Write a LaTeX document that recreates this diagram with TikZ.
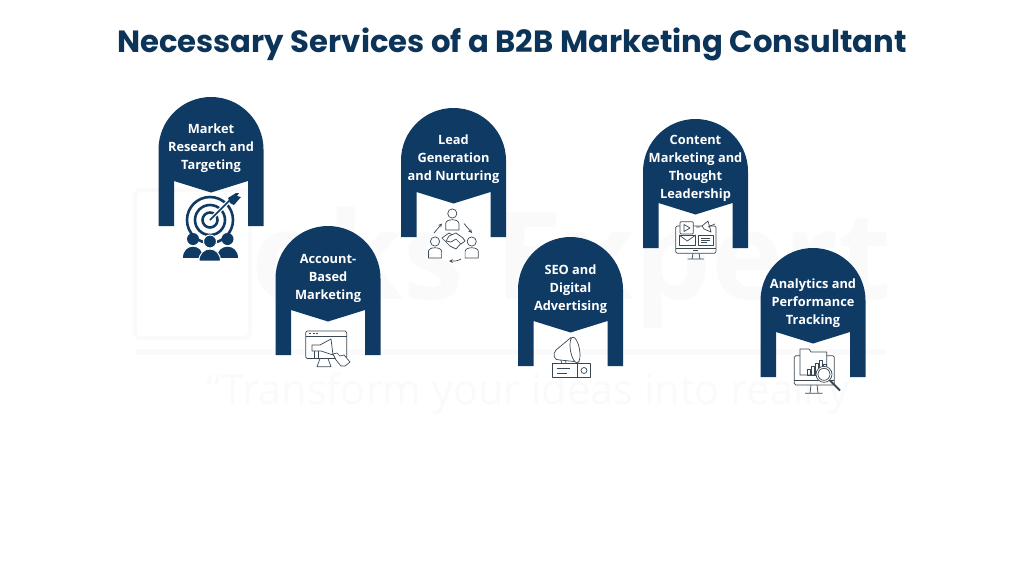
\documentclass[tikz,border=0pt]{standalone}
\usepackage{fontspec}
\setmainfont{Open Sans}
\newfontfamily\titlefont{Poppins}
\definecolor{archblue}{HTML}{0F3A63}
\definecolor{titleblue}{HTML}{0B3458}
\definecolor{iconline}{HTML}{3A4854}
\definecolor{wmgray}{HTML}{FAFAFA}
\tikzset{
    archtext/.style={text=white, align=center, font=\fontsize{12.8}{18}\selectfont\bfseries, inner sep=0pt},
    icon/.style={draw=iconline, line width=0.7pt, fill=white, line join=round},
    iconbare/.style={draw=iconline, line width=0.7pt, line join=round},
    arch/.pic={
        \fill[archblue] (-52.5,129) -- (-52.5,52.5) arc (180:360:52.5) -- (52.5,129)
            -- (37,129) -- (37,84) -- (0,95.5) -- (-37,84) -- (-37,129) -- cycle;
    }
}
\begin{document}
\begin{tikzpicture}[x=1pt, y=-1pt]
    \useasboundingbox (0,0) rectangle (1024,576);
    % watermark
    \node[text=wmgray, font=\fontsize{122}{122}\selectfont\bfseries, inner sep=0pt] (wmname) at (572,268) {oks Expert};
    \node[text=wmgray, font=\fontsize{41.5}{42}\selectfont, inner sep=0pt] (wmline) at (528,394) {``Transform your ideas into reality};
    \draw[wmgray, line width=6pt] (135,352) -- (885,352);
    \draw[wmgray, line width=4pt, rounded corners=6pt] (135,190) rectangle (250,338);

    \node[text=titleblue, font=\titlefont\fontsize{30.7}{34}\selectfont\bfseries, inner sep=0pt] (title) at (512,44) {Necessary Services of a B2B Marketing Consultant};

    \foreach \cx/\ty in {211/97, 328/226, 453.5/108, 570.5/237, 695.5/119, 813/248} {
        \pic at (\cx,\ty) {arch};
    }

    \node[archtext] (research) at (211,148) {Market\\Research and\\Targeting};
    \node[archtext] (account) at (328,278) {Account-\\Based\\Marketing};
    \node[archtext] (lead) at (453.5,159) {Lead\\Generation\\and Nurturing};
    \node[archtext] (seo) at (570.5,289) {SEO and\\Digital\\Advertising};
    \node[archtext] (content) at (695.5,168) {Content\\Marketing and\\Thought\\Leadership};
    \node[archtext] (analytics) at (813,303) {Analytics and\\Performance\\Tracking};

    % target icon
    \foreach \r/\w in {23/2.6, 15/2.6, 7.5/2.6} {
        \draw[archblue, line width=\w pt] (210,220) circle (\r);
    }
    \draw[white, line width=4pt] (210,220) -- (232,198);
    \draw[archblue, line width=1.6pt] (210,220) -- (232,198);
    \fill[archblue] (228,198) -- (236,193) -- (239,193) -- (237,196) -- (241,197) -- (234,205) -- (230,203) -- cycle;
    \foreach \x/\yy/\w in {193/239/10.3, 227.5/239/10.3} {
        \fill[archblue] (\x,\yy) circle (6);
        \fill[archblue] (\x-\w,258.3) .. controls (\x-\w,243) and (\x+\w,243) .. (\x+\w,258.3) -- cycle;
    }
    \fill[archblue, draw=white, line width=1pt] (199,261) .. controls (199,245) and (220.5,245) .. (220.5,261) -- cycle;
    \fill[archblue, draw=white, line width=1pt] (210,241.5) circle (6.5);

    % browser and megaphone icon
    \draw[icon, rounded corners=1.5pt] (305.7,331) rectangle (346.7,358.5);
    \draw[iconbare] (305.7,336) -- (346.7,336);
    \foreach \x in {309,312.5,316} {
        \draw[iconbare] (\x,333.5) -- +(2,0);
    }
    \draw[iconbare] (320,358.5) -- (317,366.7) -- (331,366.7) -- (328,358.5);
    \draw[icon] (312,345) -- (320,345) -- (331,339) -- (333,355) -- (321,351) -- (312,351) -- cycle;
    \draw[iconbare] (314,351) -- (314,358) -- (318,358) -- (318,351);
    \draw[icon] (333,354) -- (337,353) -- (340,356) -- (344,355) -- (350,362) -- (345,366) -- (341,366) -- (336,360) -- cycle;

    % handshake icon
    \foreach \x/\yy in {452.3/213.5, 435/241.5, 471.7/241.5} {
        \draw[iconbare] (\x,\yy) circle (4.6);
        \draw[iconbare] (\x-6.6,\yy+16.5) -- (\x-6.6,\yy+10) .. controls (\x-6.6,\yy+5) and (\x+6.6,\yy+5) .. (\x+6.6,\yy+10) -- (\x+6.6,\yy+16.5) -- cycle;
    }
    \draw[icon] (442,238) -- (449,233) -- (463,241) -- (456,249) -- (450,246) -- cycle;
    \draw[icon] (463,238) -- (456,233) -- (449,236) -- (446,241) -- (451,242) -- (456,239) -- (461,244) -- (465,241) -- cycle;
    \draw[iconbare, ->, >=stealth] (434,233) -- (442,223.5);
    \draw[iconbare, ->, >=stealth] (464,223.5) -- (472,233);
    \draw[iconbare, ->, >=stealth] (461,259) .. controls (457,261) .. (449,261);

    % megaphone and box icon
    \draw[icon] (552.3,363.5) rectangle (590,377.3);
    \draw[iconbare] (577.3,363.5) -- (577.3,377.3);
    \draw[iconbare] (584,370.5) circle (3);
    \draw[iconbare] (557,368.5) -- (570,368.5);
    \draw[iconbare] (557,373.5) -- (566.5,373.5);
    \draw[iconbare] (560,358) -- (562,363.5) -- (566,363.5) -- (565,356);
    \draw[icon] (571,337.5) -- (556,350) .. controls (552,354) and (554,361) .. (560,360) -- (579,362) -- cycle;
    \draw[icon, rotate around={10:(575,350)}] (575,350) ellipse (4.6 and 13);

    % content monitor icon
    \draw[icon, rounded corners=1.5pt] (675.7,226) rectangle (716,253.3);
    \draw[iconbare] (675.7,248) -- (716,248);
    \draw[iconbare] (693,253.3) -- (692,259) (699,253.3) -- (700,259) (687.7,259) -- (704,259);
    \draw[iconbare] (693,250.5) -- (698,250.5);
    \draw[icon, rounded corners=1pt] (680,221.7) rectangle (693.3,234);
    \draw[iconbare] (684,224.5) -- (690,228) -- (684,231.5) -- cycle;
    \draw[icon] (679,235) rectangle (695.7,245);
    \draw[iconbare] (679,235) -- (687.3,241) -- (695.7,235);
    \draw[icon] (698.3,235) rectangle (713.3,245);
    \draw[iconbare] (701,238) -- (710,238) (701,240) -- (710,240) (701,242) -- (707,242);
    \draw[icon] (702,226) -- (708,221) -- (711,232) -- (704,229) -- cycle;
    \draw[iconbare] (696,227) -- (700,227) (708,227) -- (715,224);

    % analytics monitor icon
    \draw[icon, rounded corners=1.5pt] (794.3,355.7) rectangle (834.3,385);
    \draw[iconbare] (794.3,380) -- (834.3,380);
    \draw[iconbare] (811,385) -- (810,393.3) (817,385) -- (818,393.3) (805,393.3) -- (822.7,393.3);
    \draw[icon] (800,375) -- (800,349) -- (809,349) -- (811,352) -- (826.7,352) -- (826.7,375) -- cycle;
    \foreach \x/\yy in {807/369, 811/366, 815/363, 819/360, 823/364} {
        \draw[iconbare] (\x,375) rectangle (\x+3,\yy);
    }
    \draw[iconbare, line width=1.8pt] (830,380.5) -- (840,390.5);
    \draw[icon] (824,374.3) circle (8);
    \draw[iconbare] (824,374.3) circle (6);
\end{tikzpicture}
\end{document}
